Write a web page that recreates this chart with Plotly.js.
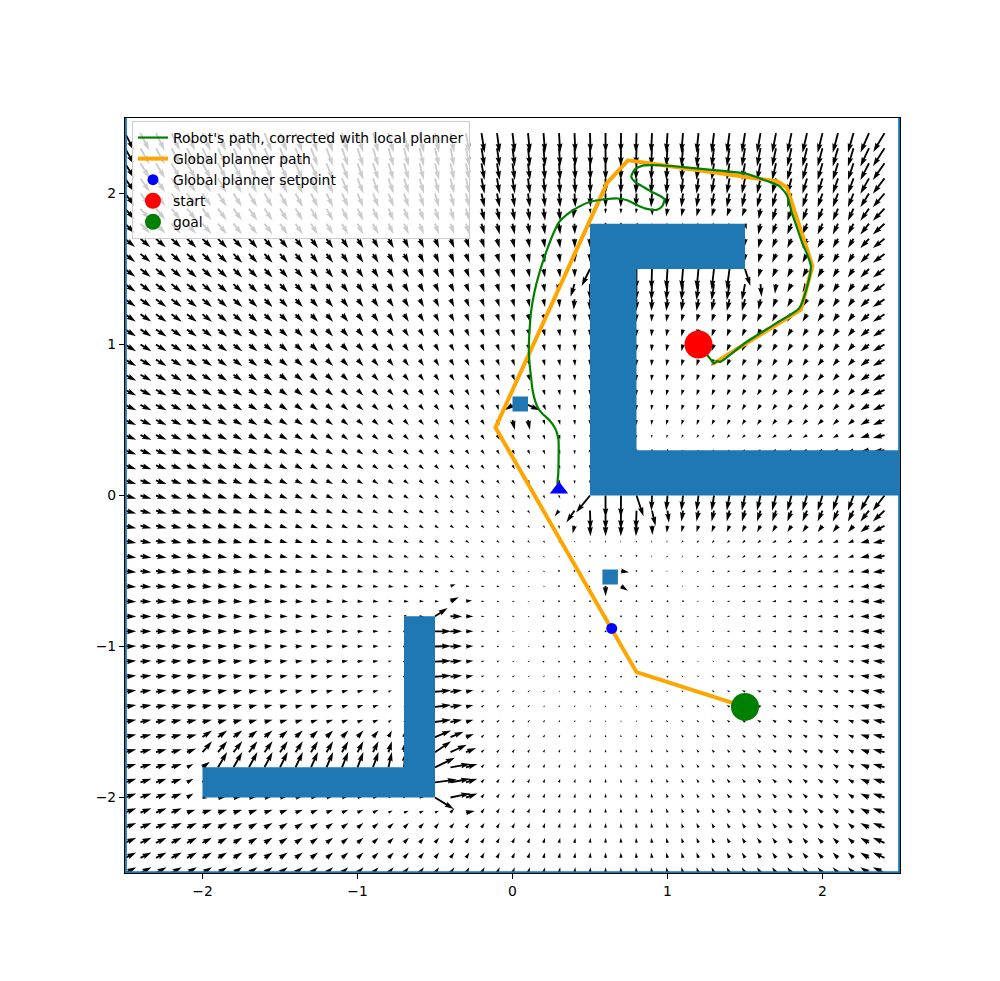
<!DOCTYPE html>
<html><head><meta charset="utf-8">
<script src="https://cdn.plot.ly/plotly-3.0.1.min.js"></script>
<style>html,body{margin:0;padding:0;background:#fff}</style>
</head><body><div id="chart" style="width:1000px;height:981px"></div>
<script>
// ---------------- data ----------------
const startPt = [1.2, 1.0];
const goalPt = [1.5, -1.4];
const setpointPt = [0.64, -0.88];
const robotPt = [0.30, 0.04];

const globalPathX = [1.29, 1.86, 1.935, 1.77, 1.71, 0.745, 0.61, -0.11, 0.80, 1.50];
const globalPathY = [0.87, 1.23, 1.52, 2.04, 2.08, 2.22, 2.07, 0.45, -1.17, -1.40];

const robotPathX = [1.20, 1.24, 1.28, 1.30, 1.32, 1.34, 1.50, 1.70, 1.85, 1.90, 1.925, 1.90, 1.87, 1.83, 1.80, 1.77, 1.72, 1.65, 1.51, 1.30, 1.10, 0.95, 0.84, 0.79, 0.766, 0.80, 0.85, 0.90, 0.95, 0.98, 0.965, 0.93, 0.86, 0.80, 0.74, 0.68, 0.60, 0.50, 0.43, 0.35, 0.30, 0.27, 0.22, 0.175, 0.14, 0.12, 0.11, 0.105, 0.11, 0.12, 0.13, 0.145, 0.162, 0.19, 0.217, 0.245, 0.271, 0.288, 0.297, 0.298, 0.297, 0.295, 0.29, 0.30];
const robotPathY = [1.00, 0.95, 0.90, 0.875, 0.89, 0.885, 1.01, 1.14, 1.24, 1.38, 1.52, 1.60, 1.67, 1.79, 1.88, 1.99, 2.05, 2.08, 2.13, 2.155, 2.175, 2.187, 2.185, 2.16, 2.11, 2.07, 2.04, 2.01, 1.985, 1.962, 1.915, 1.892, 1.90, 1.925, 1.955, 1.967, 1.962, 1.945, 1.913, 1.86, 1.81, 1.75, 1.62, 1.48, 1.34, 1.22, 1.093, 0.98, 0.874, 0.78, 0.695, 0.63, 0.585, 0.545, 0.519, 0.49, 0.452, 0.41, 0.364, 0.29, 0.21, 0.14, 0.079, 0.05];

// obstacles as [x0, x1, y0, y1]
const wallRects = [
  [0.5, 0.8, 0.0, 1.8],
  [0.5, 1.5, 1.5, 1.8],
  [0.5, 2.5, 0.0, 0.3],
  [-0.7, -0.5, -2.0, -0.8],
  [-2.0, -0.5, -2.0, -1.8]
];
const smallRects = [
  [0.0, 0.1, 0.556, 0.656],
  [0.58, 0.68, -0.59, -0.49]
];
const borderRects = [
  [-2.5, -2.488, -2.5, 2.5],
  [2.488, 2.5, -2.5, 2.5],
  [-2.5, 2.5, -2.5, -2.488]
];

const gridX = Array.from({length: 50}, (_, i) => Math.round((-2.5 + 0.1 * i) * 1000) / 1000);
const gridY = Array.from({length: 50}, (_, i) => Math.round((-2.5 + 0.1 * i) * 1000) / 1000);

const xTicks = [-2, -1, 0, 1, 2];
const yTicks = [-2, -1, 0, 1, 2];

// ---------------- geometry ----------------
const W = 1000, H = 981;
const M = {l: 125, r: 100, t: 118, b: 108};
const XR = [-2.5, 2.5], YR = [-2.5, 2.5];
const plotW = W - M.l - M.r, plotH = H - M.t - M.b;
const sx = plotW / (XR[1] - XR[0]), sy = plotH / (YR[1] - YR[0]);
const QW = 0.06 * plotW / 25; // quiver shaft width (px)

// potential-field model, expressed in arrow pixels
const ATT_PX = 3.6, ATT_SAT = 3.6;
const TOP_PUSH = 9, TOP_RANGE = 0.8;
const RIGHT_PUSH = 8, RIGHT_RANGE = 0.3;
const CANCEL = 0.7, CANCEL_RANGE = 0.2, PUSH = 12, PUSH_RANGE = 0.3, LEN_MAX = 22;
const SQ_PUSH = 10, SQ_RANGE = 0.11;
const clamp = (v, a, b) => Math.max(a, Math.min(b, v));

function insideAny(x, y) {
  return wallRects.concat(smallRects).some(r => x > r[0] + 1e-6 && x < r[1] - 1e-6 && y > r[2] + 1e-6 && y < r[3] - 1e-6);
}
function normalTo(r, x, y) {
  const qx = clamp(x, r[0], r[1]), qy = clamp(y, r[2], r[3]);
  let nx = x - qx, ny = y - qy, dd = Math.hypot(nx, ny);
  if (dd < 1e-6) {
    const dl = x - r[0], drr = r[1] - x, db = y - r[2], dtt = r[3] - y;
    const m = Math.min(dl, drr, db, dtt);
    nx = (Math.abs(dl - m) < 1e-9 ? -1 : 0) + (Math.abs(drr - m) < 1e-9 ? 1 : 0);
    ny = (Math.abs(db - m) < 1e-9 ? -1 : 0) + (Math.abs(dtt - m) < 1e-9 ? 1 : 0);
    dd = 0;
  }
  const n = Math.hypot(nx, ny) || 1;
  return [nx / n, ny / n, dd];
}
function field(x, y) {
  if (insideAny(x, y)) return [0, 0];
  const ax = setpointPt[0] - x, ay = setpointPt[1] - y;
  const d = Math.hypot(ax, ay);
  const f = ATT_PX * (d > ATT_SAT ? ATT_SAT / d : 1);
  let u = ax * f, v = ay * f;
  const dt = YR[1] - y;
  if (dt < TOP_RANGE) v -= TOP_PUSH * (1 - dt / TOP_RANGE);
  const dr = XR[1] - x;
  if (dr < RIGHT_RANGE) u -= RIGHT_PUSH * (1 - dr / RIGHT_RANGE);
  for (const r of wallRects) {
    const [nx, ny, dd] = normalTo(r, x, y);
    const an = u * nx + v * ny;
    if (an < 0) {
      const wc = Math.max(0, 1 - dd / CANCEL_RANGE);
      u -= nx * an * CANCEL * wc; v -= ny * an * CANCEL * wc;
    } else {
      const wp = Math.max(0, 1 - dd / PUSH_RANGE);
      u += nx * PUSH * wp; v += ny * PUSH * wp;
    }
  }
  for (const r of smallRects) {
    const [nx, ny, dd] = normalTo(r, x, y);
    const wp = Math.max(0, 1 - dd / SQ_RANGE);
    u += nx * SQ_PUSH * wp; v += ny * SQ_PUSH * wp;
  }
  return [u, v];
}

function arrowShape(Lpx) {
  const Lw = Lpx / QW;
  let X, Y;
  if (Lw < 1) {
    X = []; Y = [];
    for (let k = 0; k < 7; k++) { const th = k * Math.PI / 3; X.push(Math.cos(th) * 0.5); Y.push(Math.sin(th) * 0.5); }
  } else if (Lw < 5) {
    const s = Lw / 5;
    X = [0, 0.5, 0, 5, 0, 0.5, 0, 0].map(v => v * s);
    Y = [0.5, 0.5, 1.5, 0, -1.5, -0.5, -0.5, 0.5].map(v => v * s);
  } else {
    X = [0, Lw - 4.5, Lw - 5, Lw, Lw - 5, Lw - 4.5, 0, 0];
    Y = [0.5, 0.5, 1.5, 0, -1.5, -0.5, -0.5, 0.5];
  }
  return [X.map(v => v * QW), Y.map(v => v * QW)];
}

const qx = [], qy = [];
gridY.forEach(y0 => gridX.forEach(x0 => {
  const [u, v] = field(x0, y0);
  const L = Math.min(LEN_MAX, Math.hypot(u, v));
  const th = Math.atan2(v, u);
  const [X, Y] = arrowShape(L);
  const c = Math.cos(th), s = Math.sin(th);
  for (let k = 0; k < X.length; k++) {
    qx.push(x0 + (X[k] * c - Y[k] * s) / sx);
    qy.push(y0 + (X[k] * s + Y[k] * c) / sy);
  }
  qx.push(null); qy.push(null);
}));

const ox = [], oy = [];
wallRects.concat(smallRects, borderRects).forEach(r => {
  ox.push(r[0], r[1], r[1], r[0], r[0], null);
  oy.push(r[2], r[2], r[3], r[3], r[2], null);
});

const FONT = {family: 'DejaVu Sans, sans-serif', size: 13.9, color: '#000'};

const traces = [
  {type: 'scatter', mode: 'lines', x: qx, y: qy, fill: 'toself', fillcolor: '#000',
   line: {width: 0, color: '#000'}, showlegend: false, hoverinfo: 'skip'},
  {type: 'scatter', mode: 'lines', x: ox, y: oy, fill: 'toself', fillcolor: '#1f77b4',
   line: {width: 0, color: '#1f77b4'}, showlegend: false, hoverinfo: 'skip'},
  {type: 'scatter', mode: 'lines', x: globalPathX, y: globalPathY, name: 'Global planner path',
   line: {color: '#ffa500', width: 4}, legendrank: 2},
  {type: 'scatter', mode: 'lines', x: robotPathX, y: robotPathY, name: "Robot's path, corrected with local planner",
   line: {color: '#008000', width: 2.2, shape: 'spline', smoothing: 0.6}, legendrank: 1},
  {type: 'scatter', mode: 'markers', x: [setpointPt[0]], y: [setpointPt[1]], name: 'Global planner setpoint',
   marker: {color: '#0000ff', size: 11}, legendrank: 3},
  {type: 'scatter', mode: 'markers', x: [startPt[0]], y: [startPt[1]], name: 'start',
   marker: {color: '#ff0000', size: 28}, legendrank: 4},
  {type: 'scatter', mode: 'markers', x: [goalPt[0]], y: [goalPt[1]], name: 'goal',
   marker: {color: '#008000', size: 28}, legendrank: 5},
  {type: 'scatter', mode: 'markers', x: [robotPt[0]], y: [robotPt[1]], showlegend: false,
   marker: {color: '#0000ff', size: 16, symbol: 'triangle-up'}}
];

const axisBase = {
  ticks: 'outside', ticklen: 5, tickwidth: 1.1, tickcolor: '#000',
  showline: true, mirror: true, linecolor: '#000', linewidth: 1.1, showgrid: false, zeroline: false,
  tickfont: FONT, fixedrange: true
};
const layout = {
  width: W, height: H,
  margin: {l: M.l, r: M.r, t: M.t, b: M.b, pad: 0},
  paper_bgcolor: '#fff', plot_bgcolor: '#fff',
  xaxis: Object.assign({}, axisBase, {range: XR, tickvals: xTicks}),
  yaxis: Object.assign({}, axisBase, {range: YR, tickvals: yTicks}),
  showlegend: true,
  legend: {x: 0.009, y: 0.996, xanchor: 'left', yanchor: 'top', bgcolor: 'rgba(255,255,255,0.8)',
    bordercolor: '#cccccc', borderwidth: 1, font: FONT, itemsizing: 'trace', tracegroupgap: 0},
  font: FONT
};
Plotly.newPlot('chart', traces, layout, {staticPlot: true});
</script></body></html>
